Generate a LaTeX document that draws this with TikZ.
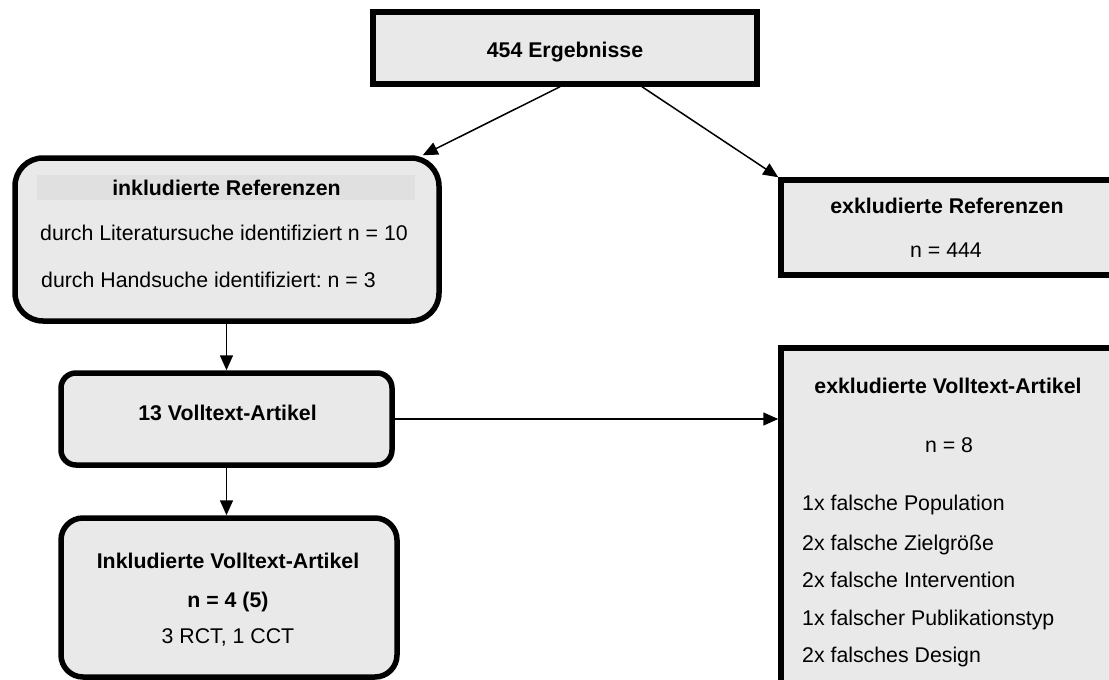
\documentclass[tikz,border=0pt]{standalone}
\usepackage{fontspec}
\setmainfont{Liberation Sans}
\usetikzlibrary{arrows.meta,calc}
\definecolor{boxfill}{RGB}{233,233,233}
\definecolor{bandfill}{RGB}{224,224,224}
\frenchspacing
\begin{document}
\begin{tikzpicture}[x=1pt,y=-1pt,
  box/.style={draw=black, fill=boxfill, line width=5.5pt, inner sep=0pt},
  txt/.style={anchor=base, inner sep=0pt, font=\fontsize{21.3}{25}\selectfont},
  btxt/.style={anchor=base, inner sep=0pt, font=\fontsize{21.3}{25}\selectfont\bfseries},
  ltxt/.style={anchor=base west, inner sep=0pt, font=\fontsize{21.3}{25}\selectfont},
  arr/.style={line width=1.5pt, -{Triangle[length=15pt,width=13pt]}}]
\useasboundingbox (0,0) rectangle (1109,680);
\clip (0,0) rectangle (1109,680);
% boxes
\node[box, minimum width=384pt, minimum height=72pt] (top) at (565,48) {};
\node[box, rounded corners=28pt, minimum width=424pt, minimum height=163pt] (lref) at (227,239.5) {};
\node[fill=bandfill, inner sep=0pt, minimum width=378pt, minimum height=25pt] (band) at (226,187.5) {};
\node[box, rounded corners=15pt, minimum width=331pt, minimum height=92pt] (mid) at (226.5,419) {};
\node[box, rounded corners=22pt, minimum width=336pt, minimum height=159pt] (bot) at (229,597.5) {};
\node[box, minimum width=340pt, minimum height=95pt] (rref) at (951,227.5) {};
\node[box, minimum width=340pt, minimum height=360pt] (rvt) at (951,528) {};
% texts
\node[btxt] (t1) at (565,57) {454 Ergebnisse};
\node[btxt] (t2) at (226.5,195) {inkludierte Referenzen};
\node[ltxt] (t3) at (40,240) {durch Literatursuche identifiziert n = 10};
\node[ltxt] (t4) at (41,287) {durch Handsuche identifiziert: n = 3};
\node[btxt] (t5) at (947,213) {exkludierte Referenzen};
\node[txt] (t6) at (946,257) {n = 444};
\node[btxt] (t7) at (948,393) {exkludierte Volltext-Artikel};
\node[txt] (t8) at (949,452) {n = 8};
\node[ltxt] (l1) at (802,510) {1x falsche Population};
\node[ltxt] (l2) at (802,550) {2x falsche Zielgröße};
\node[ltxt] (l3) at (802,587) {2x falsche Intervention};
\node[ltxt] (l4) at (802,625) {1x falscher Publikationstyp};
\node[ltxt] (l5) at (802,662) {2x falsches Design};
\node[btxt] (t9) at (227.5,420) {13 Volltext-Artikel};
\node[btxt] (t10) at (228,568) {Inkludierte Volltext-Artikel};
\node[btxt] (t11) at (228,607) {n = 4 (5)};
\node[txt] (t12) at (228,643) {3 RCT, 1 CCT};
% arrows
\draw[arr] ([xshift=-5pt]top.south) -- ([xshift=-19pt]lref.north east);
\draw[arr] ([xshift=77pt]top.south) -- (rref.north west);
\draw[arr] (mid.north |- lref.south) -- (mid.north);
\draw[arr] (mid.south) -- (mid.south |- bot.north);
\draw[arr] (mid.east) -- (mid.east -| rvt.west);
\end{tikzpicture}
\end{document}
